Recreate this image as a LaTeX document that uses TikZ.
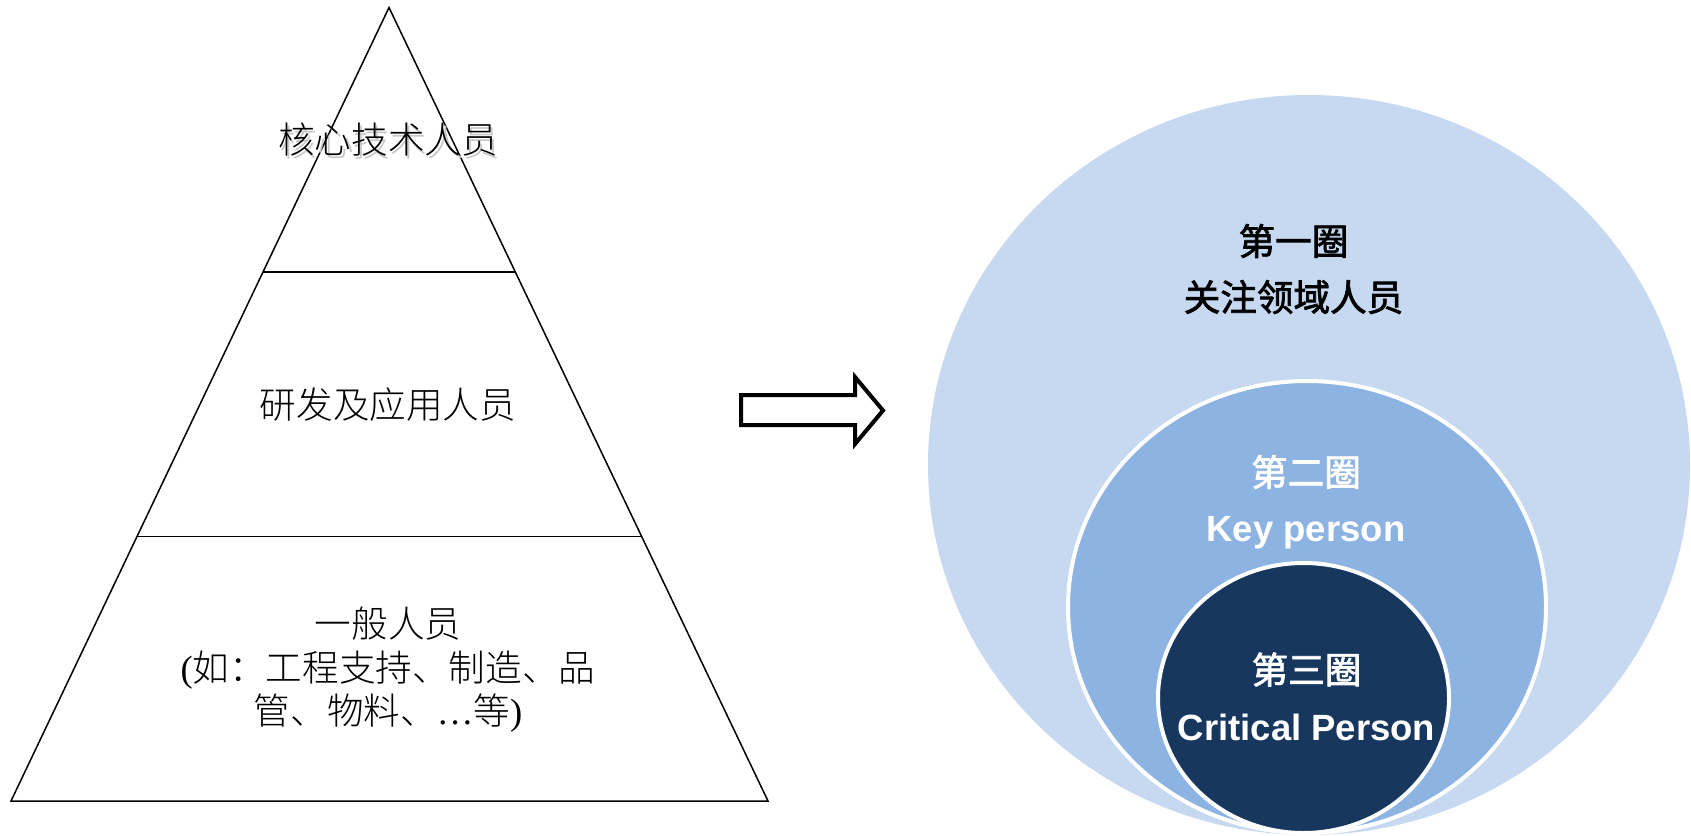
\documentclass[tikz,border=0pt]{standalone}
\usepackage{fontspec}
\setmainfont{Liberation Serif}
\newfontfamily\cjk{Noto Sans CJK SC Light}
\newfontfamily\cjkb[FakeBold=2]{Noto Sans CJK SC}
\newfontfamily\latb{Liberation Sans}
\definecolor{ringone}{HTML}{C6D9F1}
\definecolor{ringtwo}{HTML}{8DB3E2}
\definecolor{ringthree}{HTML}{17375E}
\usetikzlibrary{positioning,calc}

\begin{document}
\begin{tikzpicture}[x=1pt,y=-1pt,
    every node/.style={inner sep=0pt},
    layer/.style={font=\cjk\fontsize{36.6}{43.5}\selectfont,align=center},
    ringtext/.style={font=\cjkb\fontsize{36.6}{44}\selectfont},
    ringlat/.style={font=\latb\bfseries\fontsize{36.5}{44}\selectfont},
    ring/.style={draw=white,line width=4pt},
    node distance=56pt
    ]
    \useasboundingbox (0,0) rectangle (1691,835);

    % the pyramid
    \coordinate (top) at (389,7.5);
    \coordinate (bl) at (11,801);
    \coordinate (br) at (768,801);
    \draw[line width=1.5pt] (top) -- (br) -- (bl) -- cycle;
    \draw[line width=1.5pt] ($(top)!1/3!(bl)$) -- ($(top)!1/3!(br)$);
    \draw[line width=1.5pt] ($(top)!2/3!(bl)$) -- ($(top)!2/3!(br)$);

    \node (t1s) [layer,text=black!22] at (390.5,142.5) {核心技术人员};
    \node (t1) [layer] at (388,140) {核心技术人员};
    \node (t2) [layer] at (388,405) {研发及应用人员};
    \node (t3) [layer] at (388,670) {一般人员\\{\rmfamily(}如：工程支持、制造、品\\管、物料、{\rmfamily …}等{\rmfamily )}};

    % the arrow
    \draw[line width=4pt,fill=white,line join=miter] (741,395) -- (855,395) -- (855,377)
        -- (883,410.5) -- (855,444) -- (855,425) -- (741,425) -- cycle;

    % the rings
    \fill[ringone] (1309,465) ellipse [x radius=381pt, y radius=370pt];
    \draw[ring,fill=ringtwo] (1307,607) ellipse [x radius=239pt, y radius=226pt];
    \draw[ring,fill=ringthree] (1303.5,698) ellipse [x radius=145.5pt, y radius=135pt];

    \node (c1a) [ringtext] at (1293.5,241) {第一圈};
    \node (c1b) [ringtext,below of=c1a] {关注领域人员};
    \node (c2a) [ringtext,text=white] at (1306,472) {第二圈};
    \node (c2b) [ringlat,text=white,below of=c2a,node distance=61pt] {Key person};
    \node (c3a) [ringtext,text=white] at (1306.5,669.5) {第三圈};
    \node (c3b) [ringlat,text=white,below of=c3a,node distance=58pt] {Critical Person};
\end{tikzpicture}
\end{document}
